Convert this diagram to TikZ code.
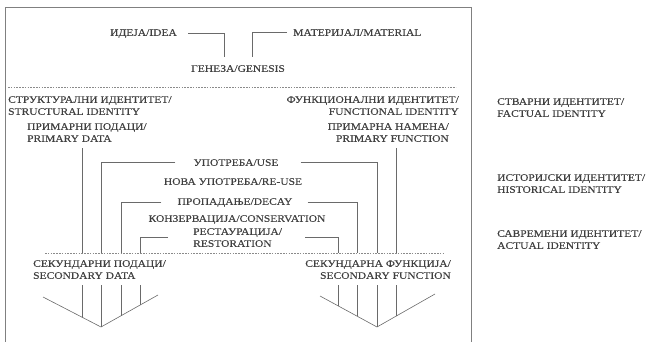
\documentclass[tikz,border=0pt]{standalone}
\usepackage{fontspec}
\setmainfont{Liberation Serif}[FakeStretch=1.15,FakeBold=0.15]
\usepackage{tikz}
\usetikzlibrary{positioning,calc}
\definecolor{inkc}{HTML}{404040}
\definecolor{linec}{HTML}{6A6A6A}
\definecolor{dotc}{HTML}{8A8A8A}
\tikzset{
  lbl/.style={font=\fontsize{10}{12}\selectfont,text=inkc,inner sep=0pt,anchor=north west,align=left},
  rlbl/.style={anchor=north east,align=right},
  clbl/.style={anchor=north,align=center},
  ln/.style={draw=linec,line width=0.6pt},
  col/.style={ln,shorten <=6pt},
  dots/.style={draw=dotc,line width=0.6pt,dash pattern=on 1.6pt off 1.2pt},
  frame/.style={draw=linec!85,line width=0.7pt},
}
\newcommand{\lbl}[4][]{\node[lbl,#1] (#2) at (#3) {#4};}

\begin{document}
\begin{tikzpicture}[x=1pt,y=-1pt]
  \useasboundingbox (0,0) rectangle (651,342);
  \draw[frame] (5,342) -- (5,7) -- (471,7) -- (471,342);
  % genesis
  \lbl{idea}{110,29}{ИДЕЈА/IDEA}
  \lbl{material}{293,29}{МАТЕРИЈАЛ/MATERIAL}
  \lbl[clbl]{genesis}{238,65}{ГЕНЕЗА/GENESIS}
  \draw[ln] ([xshift=11pt]idea.east) -| ([xshift=-14pt,yshift=8pt]genesis.north);
  \draw[ln] ([xshift=-6pt]material.west) -| ([xshift=14pt,yshift=8pt]genesis.north);
  \coordinate (d1l) at (8,87); \coordinate (d1r) at (456,87);
  \draw[dots] (d1l) -- (d1r);
  % factual identity
  \lbl{struct}{8,96}{СТРУКТУРАЛНИ ИДЕНТИТЕТ/\\STRUCTURAL IDENTITY}
  \lbl[rlbl]{func}{459,96}{ФУНКЦИОНАЛНИ ИДЕНТИТЕТ/\\FUNCTIONAL IDENTITY}
  \lbl{pdata}{27,123}{ПРИМАРНИ ПОДАЦИ/\\PRIMARY DATA}
  \lbl[rlbl]{pfunc}{449,123}{ПРИМАРНА НАМЕНА/\\PRIMARY FUNCTION}
  % historical identity
  \lbl[clbl]{use}{236,159}{УПОТРЕБА/USE}
  \lbl[clbl]{reuse}{233,178}{НОВА УПОТРЕБА/RE-USE}
  \lbl[clbl]{decay}{235,198}{ПРОПАДАЊЕ/DECAY}
  \lbl[clbl]{cons}{237,215}{КОНЗЕРВАЦИЈА/CONSERVATION}
  \lbl{resto}{193,228}{РЕСТАУРАЦИЈА/\\RESTORATION}
  \coordinate (c1) at (82,253); \coordinate (c2) at (101,253);
  \coordinate (c3) at (121,253); \coordinate (c4) at (140,253);
  \coordinate (k4) at (338,253); \coordinate (k3) at (357,253);
  \coordinate (k2) at (377,253); \coordinate (k1) at (396,253);
  \draw[col] (pdata.south -| c1) -- (c1);
  \draw[col] (pfunc.south -| k1) -- (k1);
  \draw[ln] ([xshift=-18pt]use.west) -| (c2);
  \draw[ln] ([xshift=22pt]use.east) -| (k2);
  \draw[ln] ([xshift=-16pt]decay.west) -| (c3);
  \draw[ln] ([xshift=15pt]decay.east) -| (k3);
  \draw[ln] ([xshift=-25pt]resto.west) -| (c4);
  \draw[ln] ([xshift=23pt]resto.east) -| (k4);
  \coordinate (d2l) at (45,253); \coordinate (d2r) at (444,253);
  \draw[dots] (d2l) -- (d2r);
  % actual identity
  \lbl{sdata}{33,260}{СЕКУНДАРНИ ПОДАЦИ/\\SECONDARY DATA}
  \lbl[rlbl]{sfunc}{451,260}{СЕКУНДАРНА ФУНКЦИЈА/\\SECONDARY FUNCTION}
  \coordinate (vl) at (43,297); \coordinate (va) at (101,327); \coordinate (vr) at (158,295);
  \coordinate (wl) at (320,296); \coordinate (wa) at (377,327); \coordinate (wr) at (435,294);
  \coordinate (f1) at (82,317); \coordinate (f3) at (121,316); \coordinate (f4) at (140,305);
  \coordinate (g4) at (338,306); \coordinate (g3) at (357,316); \coordinate (g1) at (396,316);
  \draw[ln] (vl) -- (va) -- (vr);
  \draw[ln] (wl) -- (wa) -- (wr);
  \foreach \c/\f in {c1/f1,c2/va,c3/f3,c4/f4}
    \draw[col] (sdata.south -| \c) -- (\f);
  \foreach \c/\f in {k4/g4,k3/g3,k2/wa,k1/g1}
    \draw[col] (sfunc.south -| \c) -- (\f);
  % levels
  \lbl{factual}{497,98}{СТВАРНИ ИДЕНТИТЕТ/\\FACTUAL IDENTITY}
  \lbl{historical}{497,174}{ИСТОРИЈСКИ ИДЕНТИТЕТ/\\HISTORICAL IDENTITY}
  \lbl{actual}{497,230}{САВРЕМЕНИ ИДЕНТИТЕТ/\\ACTUAL IDENTITY}
\end{tikzpicture}
\end{document}
